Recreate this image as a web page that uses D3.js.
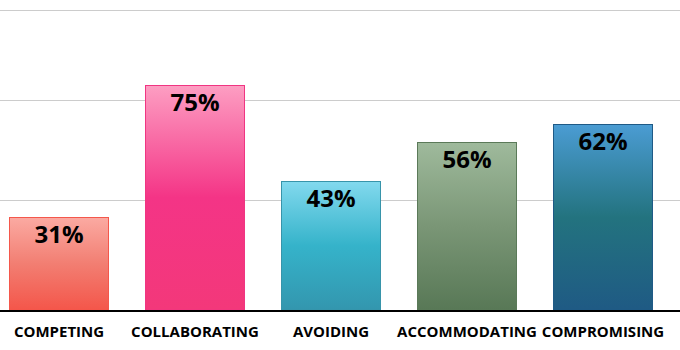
<!DOCTYPE html>
<html lang="en">

<head>
    <meta charset="UTF-8">
    <script src="https://cdnjs.cloudflare.com/ajax/libs/d3/7.9.0/d3.min.js"></script>
    <title>Conflict Styles</title>
    <style>
        body {
            margin: 0;
            background-color: white;
            font-family: "Open Sans", sans-serif;
        }

        svg {
            display: block;
        }
    </style>
</head>

<body>
    <div id="chart"></div>
    <script>
        const categories = ["COMPETING", "COLLABORATING", "AVOIDING", "ACCOMMODATING", "COMPROMISING"];
        const values = [31, 75, 43, 56, 62];
        const gridValues = [36.67, 70, 100];
        // gradient stops per bar: top, middle, bottom
        const gradients = [
            ["#fbaaa2", "#f27e72", "#f4564a"],
            ["#fd9ec2", "#f43486", "#f3387a"],
            ["#82d9ee", "#35b3ca", "#3396ae"],
            ["#9fba9c", "#7a9676", "#587856"],
            ["#4b9cd3", "#23737f", "#1f5a84"]
        ];
        const strokes = ["#f4574b", "#f03582", "#3794aa", "#5b7a59", "#1f5a86"];

        const width = 680;
        const height = 350;
        const baseline = 310;

        const svg = d3.select("#chart").append("svg")
            .attr("width", width)
            .attr("height", height);

        const x = d3.scaleBand()
            .domain(categories)
            .range([-9, 671])
            .paddingInner(36 / 136)
            .paddingOuter(18 / 136);

        const y = d3.scaleLinear()
            .domain([0, 100])
            .range([baseline, 10]);

        const defs = svg.append("defs");
        gradients.forEach((g, i) => {
            const lg = defs.append("linearGradient")
                .attr("id", "grad" + i)
                .attr("x1", 0).attr("y1", 0)
                .attr("x2", 0).attr("y2", 1);
            lg.append("stop").attr("offset", "0%").attr("stop-color", g[0]);
            lg.append("stop").attr("offset", "50%").attr("stop-color", g[1]);
            lg.append("stop").attr("offset", "100%").attr("stop-color", g[2]);
        });

        // gridlines
        svg.append("g")
            .selectAll("line")
            .data(gridValues)
            .enter()
            .append("line")
            .attr("x1", 0)
            .attr("x2", width)
            .attr("y1", d => Math.round(y(d)) + 0.5)
            .attr("y2", d => Math.round(y(d)) + 0.5)
            .attr("stroke", "#cccccc")
            .attr("stroke-width", 1);

        // bars
        svg.append("g")
            .selectAll("rect")
            .data(values)
            .enter()
            .append("rect")
            .attr("x", (d, i) => x(categories[i]) + 0.5)
            .attr("y", d => y(d) + 0.5)
            .attr("width", x.bandwidth() - 1)
            .attr("height", d => baseline - y(d) - 0.5)
            .attr("fill", (d, i) => `url(#grad${i})`)
            .attr("stroke", (d, i) => strokes[i])
            .attr("stroke-width", 1);

        // value labels
        svg.append("g")
            .selectAll("text")
            .data(values)
            .enter()
            .append("text")
            .attr("x", (d, i) => x(categories[i]) + x.bandwidth() / 2)
            .attr("y", d => y(d) + 26)
            .attr("text-anchor", "middle")
            .attr("font-size", "24px")
            .attr("font-weight", "bold")
            .attr("fill", "#000")
            .text(d => d + "%");

        // x axis
        const xAxis = svg.append("g")
            .attr("transform", `translate(0, ${baseline})`)
            .call(d3.axisBottom(x).tickSize(0).tickPadding(16));
        xAxis.select(".domain")
            .attr("d", `M0,1H${width}`)
            .attr("stroke", "#000")
            .attr("stroke-width", 2);
        xAxis.selectAll("text")
            .attr("font-family", "Open Sans, sans-serif")
            .attr("font-size", "15px")
            .attr("font-weight", "bold")
            .attr("fill", "#000");
    </script>
</body>

</html>
